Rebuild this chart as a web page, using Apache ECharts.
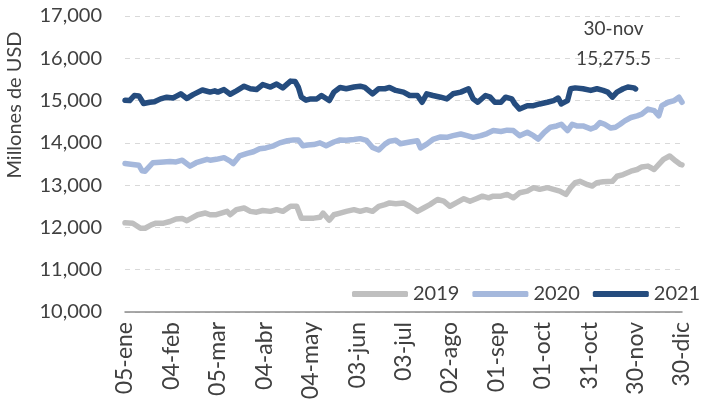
<!DOCTYPE html>
<html>
<head>
<meta charset="utf-8">
<script src="https://cdn.jsdelivr.net/npm/echarts@6/dist/echarts.min.js"></script>
<style>html,body{margin:0;padding:0;background:#fff}#c{width:704px;height:404px}</style>
</head>
<body>
<div id="c"></div>
<script>
// Tick labels (every 30 days from 05-ene)
var tickLabels = ['05-ene','04-feb','05-mar','04-abr','04-may','03-jun','03-jul','02-ago','01-sep','01-oct','31-oct','30-nov','30-dic'];
var seriesNames = ['2019','2020','2021'];

// day offsets (from 05-ene) and values, millones de USD
var days2019 = [0,5,10,13,17,20,25,29,33,37,40,43,47,52,55,59,66,68,72,77,81,85,89,94,98,102,107,111,114,116,118,122,126,128,132,135,139,143,148,152,156,160,164,168,171,175,180,184,189,193,197,202,206,210,214,219,223,227,231,235,238,243,247,251,255,260,264,268,273,277,281,285,288,291,294,299,302,305,309,315,318,322,327,331,334,338,342,345,348,352,356,359,360];
var vals2019 = [12110,12100,11980,11980,12060,12100,12100,12140,12200,12210,12160,12220,12300,12340,12300,12300,12380,12300,12420,12460,12380,12360,12400,12380,12420,12380,12500,12500,12220,12220,12220,12220,12240,12340,12170,12300,12340,12380,12420,12380,12420,12380,12500,12540,12580,12560,12580,12500,12380,12460,12540,12660,12620,12500,12580,12680,12620,12680,12740,12700,12740,12740,12780,12700,12820,12860,12940,12900,12940,12900,12860,12780,12940,13060,13090,13010,12980,13060,13080,13090,13210,13250,13330,13370,13430,13450,13370,13490,13610,13690,13570,13490,13480];

var days2020 = [0,5,9,11,13,18,25,29,33,37,42,46,53,55,59,64,68,70,74,79,83,87,91,96,100,105,109,112,115,118,122,126,130,135,139,143,148,152,156,160,164,168,171,175,178,184,189,191,195,199,204,208,212,217,221,225,230,234,238,243,247,251,255,260,264,267,271,275,279,282,286,289,292,296,301,304,307,310,314,317,320,323,327,331,334,338,342,345,347,351,355,358,360];
var vals2020 = [13510,13490,13470,13340,13330,13530,13550,13560,13550,13590,13450,13530,13610,13590,13610,13650,13570,13510,13690,13750,13790,13860,13880,13930,14000,14050,14070,14070,13930,13950,13960,14000,13930,14020,14070,14060,14080,14100,14060,13890,13830,13970,14040,14060,13980,14020,14050,13880,13970,14080,14140,14130,14170,14210,14170,14130,14170,14220,14290,14270,14300,14290,14170,14250,14170,14090,14250,14370,14400,14440,14290,14440,14400,14400,14330,14370,14480,14440,14350,14370,14440,14520,14600,14640,14680,14800,14760,14640,14880,14960,15000,15080,14960];

var days2021 = [0,3,6,9,12,16,19,23,27,31,33,36,40,44,50,53,55,58,60,64,68,72,77,81,85,89,94,98,102,107,110,112,114,117,120,124,127,132,135,139,143,148,152,155,160,164,168,171,175,180,184,189,192,195,199,204,208,212,217,222,225,228,233,236,239,243,246,250,252,255,260,264,268,273,277,280,282,286,288,291,296,301,305,309,312,315,318,322,325,329,330];
var vals2021 = [15010,15000,15120,15110,14930,14960,14970,15040,15080,15060,15100,15160,15050,15140,15250,15220,15200,15230,15200,15260,15150,15230,15340,15280,15260,15380,15320,15390,15300,15460,15450,15320,15080,15010,15040,15040,15120,15000,15200,15310,15280,15320,15340,15310,15160,15280,15280,15310,15240,15200,15120,15120,14960,15160,15120,15080,15040,15160,15200,15280,15040,14960,15120,15080,14960,14960,15080,15040,14920,14800,14880,14880,14920,14960,15000,15060,14920,15000,15280,15300,15280,15240,15280,15240,15200,15080,15200,15280,15320,15300,15275.5];

var colors = ['#BFBFBF','#A5B8DC','#254C7E'];
var FONT = 'Lato, "Open Sans", sans-serif';
var TXT = '#404040';

function pairs(d, v) { return d.map(function (x, i) { return [x, v[i]]; }); }
function fmt(n) { return n.toLocaleString('en-US', {maximumFractionDigits: 1}); }

var lastDay = days2021[days2021.length - 1];
var lastVal = vals2021[vals2021.length - 1];

var chart = echarts.init(document.getElementById('c'));
chart.setOption({
  animation: false,
  backgroundColor: '#fff',
  color: colors,
  grid: { left: 125, right: 22, top: 16, bottom: 92, containLabel: false },
  graphic: [{
    type: 'text', x: 15, y: 105, rotation: Math.PI / 2,
    style: { text: 'Millones de USD', fontFamily: FONT, fontSize: 20, fill: TXT, textAlign: 'center', textVerticalAlign: 'middle' }
  }],
  legend: {
    left: 352, top: 284, padding: 0, itemGap: 13, itemWidth: 56, itemHeight: 6, icon: 'roundRect',
    data: seriesNames,
    textStyle: { fontFamily: FONT, fontSize: 20, color: TXT }
  },
  xAxis: {
    type: 'value', min: 0, max: 360, interval: 30,
    axisLine: { show: true, onZero: false, lineStyle: { color: '#8C8C8C', width: 1.5 } },
    axisTick: { show: false },
    splitLine: { show: false },
    axisLabel: {
      rotate: 90, margin: 10, fontFamily: FONT, fontSize: 23, color: TXT,
      formatter: function (v) { return tickLabels[Math.round(v / 30)]; }
    }
  },
  yAxis: {
    type: 'value', min: 10000, max: 17000, interval: 1000,
    axisLine: { show: false }, axisTick: { show: false },
    splitLine: { show: true, lineStyle: { color: '#D9D9D9', type: [5, 5], width: 1 } },
    axisLabel: { margin: 23, fontFamily: FONT, fontSize: 20, color: TXT, formatter: function (v) { return fmt(v); } }
  },
  series: [
    { name: seriesNames[0], type: 'line', data: pairs(days2019, vals2019), showSymbol: false, symbol: 'none', lineStyle: { width: 5.5, cap: 'round', join: 'round' } },
    { name: seriesNames[1], type: 'line', data: pairs(days2020, vals2020), showSymbol: false, symbol: 'none', lineStyle: { width: 5.5, cap: 'round', join: 'round' } },
    { name: seriesNames[2], type: 'line', data: pairs(days2021, vals2021), showSymbol: false, symbol: 'none', lineStyle: { width: 5.5, cap: 'round', join: 'round' },
      markPoint: {
        symbol: 'circle', symbolSize: 2, itemStyle: { color: 'rgba(0,0,0,0)' },
        data: [{ coord: [lastDay, lastVal], value: lastVal }],
        label: {
          show: true, position: 'top', distance: 14, offset: [-22, 0],
          formatter: function (p) { return tickLabels[Math.round(lastDay / 30)] + '\n' + fmt(p.value); },
          fontFamily: FONT, fontSize: 19, color: TXT, lineHeight: 30, align: 'center'
        }
      }
    }
  ]
});
</script>
</body>
</html>
